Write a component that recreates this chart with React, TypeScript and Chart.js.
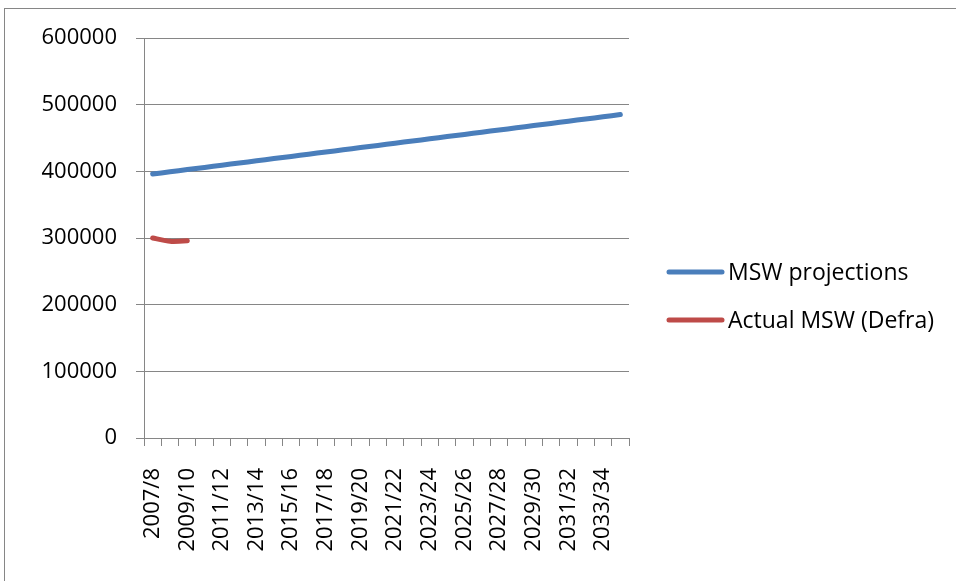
import React, { useEffect, useRef } from "react";
import { Chart, registerables } from "chart.js";

Chart.register(...registerables);

const categories = [
  "2007/8", "2008/9", "2009/10", "2010/11", "2011/12", "2012/13", "2013/14",
  "2014/15", "2015/16", "2016/17", "2017/18", "2018/19", "2019/20", "2020/21",
  "2021/22", "2022/23", "2023/24", "2024/25", "2025/26", "2026/27", "2027/28",
  "2028/29", "2029/30", "2030/31", "2031/32", "2032/33", "2033/34", "2034/35",
];

const mswProjections = [
  396000, 399300, 402600, 405900, 409200, 412500, 415800, 419100, 422400,
  425700, 429000, 432300, 435600, 438900, 442200, 445500, 448800, 452100,
  455400, 458700, 462000, 465300, 468600, 471900, 475200, 478500, 481800,
  485100,
];

const actualMsw = [300000, 295000, 296000];

const yTicks = [0, 100000, 200000, 300000, 400000, 500000, 600000];

const seriesLabels = ["MSW projections", "Actual MSW (Defra)"];
const seriesColors = ["#4A7EBB", "#BE4B48"];

const FONT = "'Open Sans', 'Noto Sans', sans-serif";

const frameAndLegend = {
  id: "frameAndLegend",
  beforeDraw(chart: any) {
    const ctx = chart.ctx;
    ctx.save();
    ctx.fillStyle = "#ffffff";
    ctx.fillRect(0, 0, chart.width, chart.height);
    ctx.strokeStyle = "#868686";
    ctx.lineWidth = 1;
    ctx.strokeRect(4.5, 8.5, 3000, 3000);
    ctx.restore();
  },
  afterDraw(chart: any) {
    const ctx = chart.ctx;
    const area = chart.chartArea;
    const x0 = area.right + 40;
    const centerY = 296;
    const gap = 48;
    ctx.save();
    ctx.font = `23px ${FONT}`;
    ctx.textBaseline = "middle";
    ctx.textAlign = "left";
    chart.data.datasets.forEach((ds: any, i: number) => {
      const y = centerY - gap / 2 + i * gap;
      ctx.strokeStyle = ds.borderColor;
      ctx.lineWidth = 5;
      ctx.lineCap = "round";
      ctx.beginPath();
      ctx.moveTo(x0, y);
      ctx.lineTo(x0 + 53, y);
      ctx.stroke();
      ctx.fillStyle = "#000000";
      ctx.fillText(ds.label, x0 + 59, y + 1);
    });
    ctx.restore();
  },
};

export default function App() {
  const ref = useRef<HTMLCanvasElement>(null);

  useEffect(() => {
    if (!ref.current) return;
    const chart = new Chart(ref.current, {
      type: "line",
      data: {
        labels: categories,
        datasets: [
          {
            label: seriesLabels[0],
            data: mswProjections,
            borderColor: seriesColors[0],
            backgroundColor: seriesColors[0],
            borderWidth: 5,
            pointRadius: 0,
            borderCapStyle: "round",
            borderJoinStyle: "round",
            tension: 0.2,
          },
          {
            label: seriesLabels[1],
            data: actualMsw,
            borderColor: seriesColors[1],
            backgroundColor: seriesColors[1],
            borderWidth: 5,
            pointRadius: 0,
            borderCapStyle: "round",
            borderJoinStyle: "round",
            tension: 0.2,
          },
        ],
      },
      options: {
        animation: false,
        responsive: false,
        maintainAspectRatio: false,
        layout: { padding: { top: 38, right: 327, bottom: 0, left: 0 } },
        plugins: {
          legend: { display: false },
          tooltip: { enabled: false },
        },
        scales: {
          x: {
            type: "category",
            offset: true,
            grid: {
              offset: true,
              drawOnChartArea: false,
              drawTicks: true,
              tickLength: 8,
              color: "#868686",
            },
            border: { color: "#868686", width: 1 },
            ticks: {
              autoSkip: false,
              minRotation: 90,
              maxRotation: 90,
              padding: 22,
              color: "#000000",
              font: { family: FONT, size: 22 },
              callback: (_v: any, i: number) => (i % 2 === 0 ? categories[i] : ""),
            },
            afterFit: (scale: any) => {
              scale.height = 143;
            },
          },
          y: {
            min: yTicks[0],
            max: yTicks[yTicks.length - 1],
            afterBuildTicks: (scale: any) => {
              scale.ticks = yTicks.map((v) => ({ value: v }));
            },
            grid: {
              color: "#868686",
              tickLength: 8,
              drawTicks: true,
            },
            border: { color: "#868686", width: 1 },
            ticks: {
              padding: 19,
              color: "#000000",
              font: { family: FONT, size: 22 },
              callback: (v: any) => String(v),
            },
            afterFit: (scale: any) => {
              scale.width = 144;
            },
          },
        },
      },
      plugins: [frameAndLegend],
    });
    return () => chart.destroy();
  }, []);

  return (
    <div style={{ position: "fixed", left: 0, top: 0, width: 956, height: 581, background: "#fff" }}>
      <canvas ref={ref} width={956} height={581} style={{ display: "block", width: 956, height: 581 }} />
    </div>
  );
}
